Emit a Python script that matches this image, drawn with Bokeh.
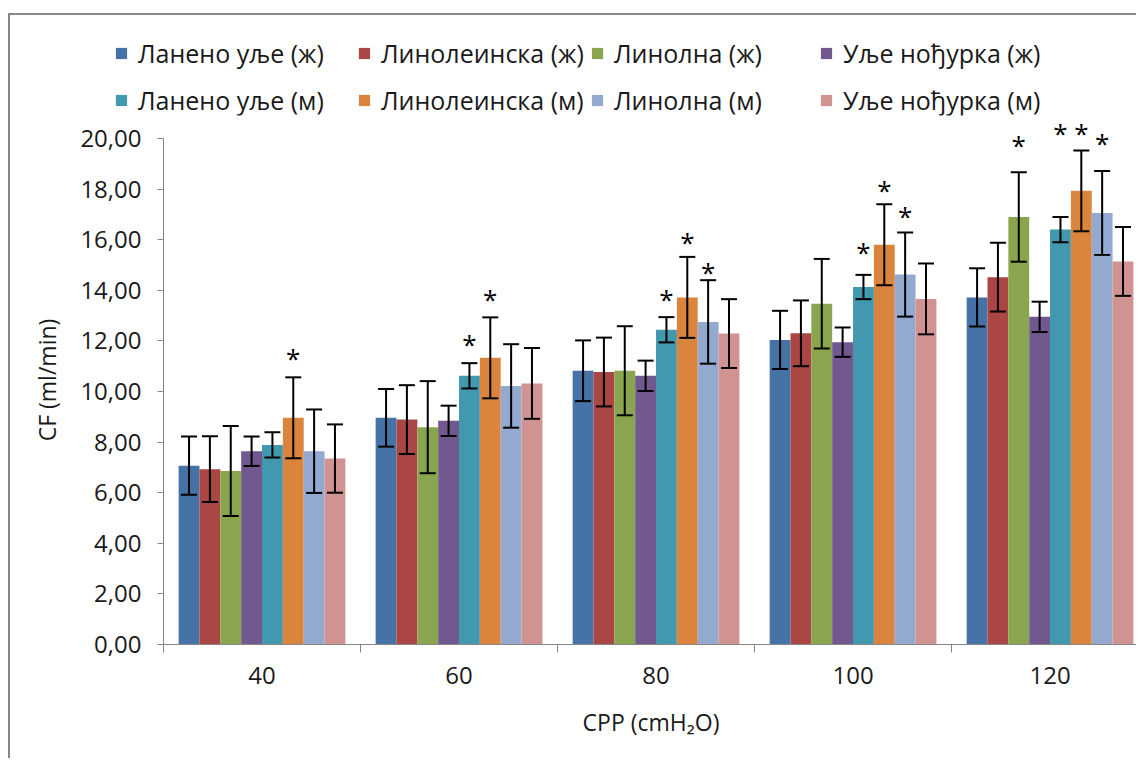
from bokeh.plotting import figure
from bokeh.models import (ColumnDataSource, Range1d, FixedTicker, Whisker, TeeHead,
                          Legend, LegendItem)
from bokeh.core.properties import value
from bokeh.embed import file_html
from bokeh.resources import INLINE

categories = ["40", "60", "80", "100", "120"]
series_names = ["Ланено уље (ж)", "Линолеинска (ж)", "Линолна (ж)", "Уље нођурка (ж)",
                "Ланено уље (м)", "Линолеинска (м)", "Линолна (м)", "Уље нођурка (м)"]
colors = ["#4572A7", "#AA4643", "#89A54E", "#71588F",
          "#4198AF", "#DB843D", "#93A9CF", "#D19392"]

lan_z = [7.07, 8.96, 10.82, 12.04, 13.72]
lin_ac_z = [6.93, 8.89, 10.77, 12.30, 14.52]
linol_z = [6.86, 8.59, 10.82, 13.47, 16.90]
nocurka_z = [7.64, 8.84, 10.62, 11.95, 12.95]
lan_m = [7.89, 10.62, 12.44, 14.13, 16.40]
lin_ac_m = [8.96, 11.33, 13.72, 15.80, 17.93]
linol_m = [7.64, 10.22, 12.75, 14.62, 17.06]
nocurka_m = [7.35, 10.32, 12.29, 13.66, 15.14]

lan_z_sd = [1.15, 1.14, 1.20, 1.15, 1.15]
lin_ac_z_sd = [1.30, 1.36, 1.36, 1.30, 1.36]
linol_z_sd = [1.78, 1.82, 1.76, 1.77, 1.77]
nocurka_z_sd = [0.58, 0.60, 0.60, 0.58, 0.60]
lan_m_sd = [0.50, 0.50, 0.50, 0.48, 0.50]
lin_ac_m_sd = [1.60, 1.60, 1.60, 1.60, 1.60]
linol_m_sd = [1.65, 1.65, 1.65, 1.66, 1.66]
nocurka_m_sd = [1.35, 1.40, 1.36, 1.40, 1.36]

means = [lan_z, lin_ac_z, linol_z, nocurka_z, lan_m, lin_ac_m, linol_m, nocurka_m]
sds = [lan_z_sd, lin_ac_z_sd, linol_z_sd, nocurka_z_sd, lan_m_sd, lin_ac_m_sd, linol_m_sd, nocurka_m_sd]

# significance markers: series index, category index, marker height
star_series = [5, 4, 5, 4, 5, 6, 4, 5, 6, 2, 4, 5, 6]
star_group = [0, 1, 1, 2, 2, 2, 3, 3, 3, 4, 4, 4, 4]
star_y = [11.42, 11.94, 13.75, 13.75, 15.98, 14.82, 15.61, 18.06, 17.00, 19.84, 20.29, 20.29, 19.90]

y_ticks = [0, 2, 4, 6, 8, 10, 12, 14, 16, 18, 20]

FONT = "Open Sans"
TEXT_COLOR = "#1a1a1a"
AXIS_COLOR = "#868686"
BORDER = "2px solid #878787"
n_series = len(series_names)
bar_w = 0.1058

# ---- legend strip (top) ----
leg_h = 102
lp = figure(width=1128, height=leg_h, output_backend="svg", toolbar_location=None,
            x_range=Range1d(0, 1128), y_range=Range1d(0, leg_h),
            min_border=0, min_border_left=0, min_border_right=0,
            min_border_top=0, min_border_bottom=0)
lp.axis.visible = False
lp.xgrid.visible = False
lp.ygrid.visible = False
lp.outline_line_color = None
lp.background_fill_color = "white"
lp.border_fill_color = "white"
lp.styles = {"border-left": BORDER, "border-top": BORDER,
             "margin-left": "8px", "margin-top": "13px"}
# legend-only swatch renderers (their single point lies outside the visible range)
leg_renderers = [lp.vbar(x=[-500], top=[1], width=1, fill_color=colors[j], line_color=None)
                 for j in range(n_series)]
col_x = [104, 347, 580, 809]
for c in range(4):
    items = [LegendItem(label=series_names[c], renderers=[leg_renderers[c]]),
             LegendItem(label=series_names[c + 4], renderers=[leg_renderers[c + 4]])]
    lg = Legend(items=items, location=(col_x[c], 0), orientation="vertical",
                padding=0, margin=0, spacing=13, glyph_width=14, glyph_height=14,
                label_standoff=10, label_text_font=FONT, label_text_font_size="25px",
                label_text_color=TEXT_COLOR, border_line_color=None,
                background_fill_alpha=0)
    lp.add_layout(lg)

# ---- main chart ----
frame_top = 15 + leg_h
main_h = 760 - frame_top
y_end = 20 * (646 - frame_top) / 506.0
p = figure(width=1128, height=main_h, output_backend="svg", toolbar_location=None,
           x_range=Range1d(-0.5, 4.449), y_range=Range1d(0, y_end),
           min_border_left=153, min_border_right=0, min_border_top=0,
           min_border_bottom=760 - 646)
p.styles = {"border-left": BORDER, "margin-left": "8px"}
p.outline_line_color = None
p.xgrid.visible = False
p.ygrid.visible = False
p.background_fill_color = "white"
p.border_fill_color = "white"

for j in range(n_series):
    xs = [i + (j - (n_series - 1) / 2) * bar_w for i in range(len(categories))]
    src = ColumnDataSource(dict(x=xs, top=means[j],
                                upper=[m + s for m, s in zip(means[j], sds[j])],
                                lower=[m - s for m, s in zip(means[j], sds[j])]))
    p.vbar(x="x", top="top", width=bar_w, bottom=0, source=src,
           fill_color=colors[j], line_color=None)
    w = Whisker(source=src, base="x", upper="upper", lower="lower", dimension="height",
                line_color="black", line_width=2, level="overlay",
                upper_head=TeeHead(size=16, line_color="black", line_width=2),
                lower_head=TeeHead(size=16, line_color="black", line_width=2))
    p.add_layout(w)

sx = [g + (s - (n_series - 1) / 2) * bar_w for s, g in zip(star_series, star_group)]
p.text(x=sx, y=star_y, text=["*"] * len(sx), text_font=value(FONT), text_font_size="26px",
       text_align="center", text_baseline="middle", text_color="#000000", y_offset=2)

# axes
p.yaxis.ticker = FixedTicker(ticks=y_ticks)
p.yaxis.bounds = (0, 20)
p.yaxis.major_label_overrides = {t: f"{t:.2f}".replace(".", ",") for t in y_ticks}
p.yaxis.axis_line_color = AXIS_COLOR
p.yaxis.major_tick_line_color = AXIS_COLOR
p.yaxis.major_tick_out = 6
p.yaxis.major_tick_in = 0
p.yaxis.minor_tick_line_color = None
p.yaxis.major_label_standoff = 16
p.yaxis.major_label_text_font = FONT
p.yaxis.major_label_text_font_size = "24px"
p.yaxis.major_label_text_color = TEXT_COLOR
p.yaxis.axis_label = "CF (ml/min)"
p.yaxis.axis_label_text_font = FONT
p.yaxis.axis_label_text_font_size = "23px"
p.yaxis.axis_label_text_font_style = "normal"
p.yaxis.axis_label_text_color = TEXT_COLOR
p.yaxis.axis_label_standoff = 14

p.xaxis.ticker = FixedTicker(ticks=list(range(len(categories))),
                             minor_ticks=[i - 0.5 for i in range(len(categories) + 1)])
p.xaxis.major_label_overrides = {i: c for i, c in enumerate(categories)}
p.xaxis.axis_line_color = AXIS_COLOR
p.xaxis.major_tick_line_color = None
p.xaxis.major_tick_out = 0
p.xaxis.major_tick_in = 0
p.xaxis.minor_tick_line_color = AXIS_COLOR
p.xaxis.minor_tick_out = 8
p.xaxis.minor_tick_in = 0
p.xaxis.major_label_standoff = 14
p.xaxis.major_label_text_font = FONT
p.xaxis.major_label_text_font_size = "24px"
p.xaxis.major_label_text_color = TEXT_COLOR
p.xaxis.axis_label = "CPP (cmH₂O)"
p.xaxis.axis_label_text_font = FONT
p.xaxis.axis_label_text_font_size = "23px"
p.xaxis.axis_label_text_font_style = "normal"
p.xaxis.axis_label_text_color = TEXT_COLOR
p.xaxis.axis_label_standoff = 19

open("out.html", "w").write(file_html([lp, p], INLINE))
